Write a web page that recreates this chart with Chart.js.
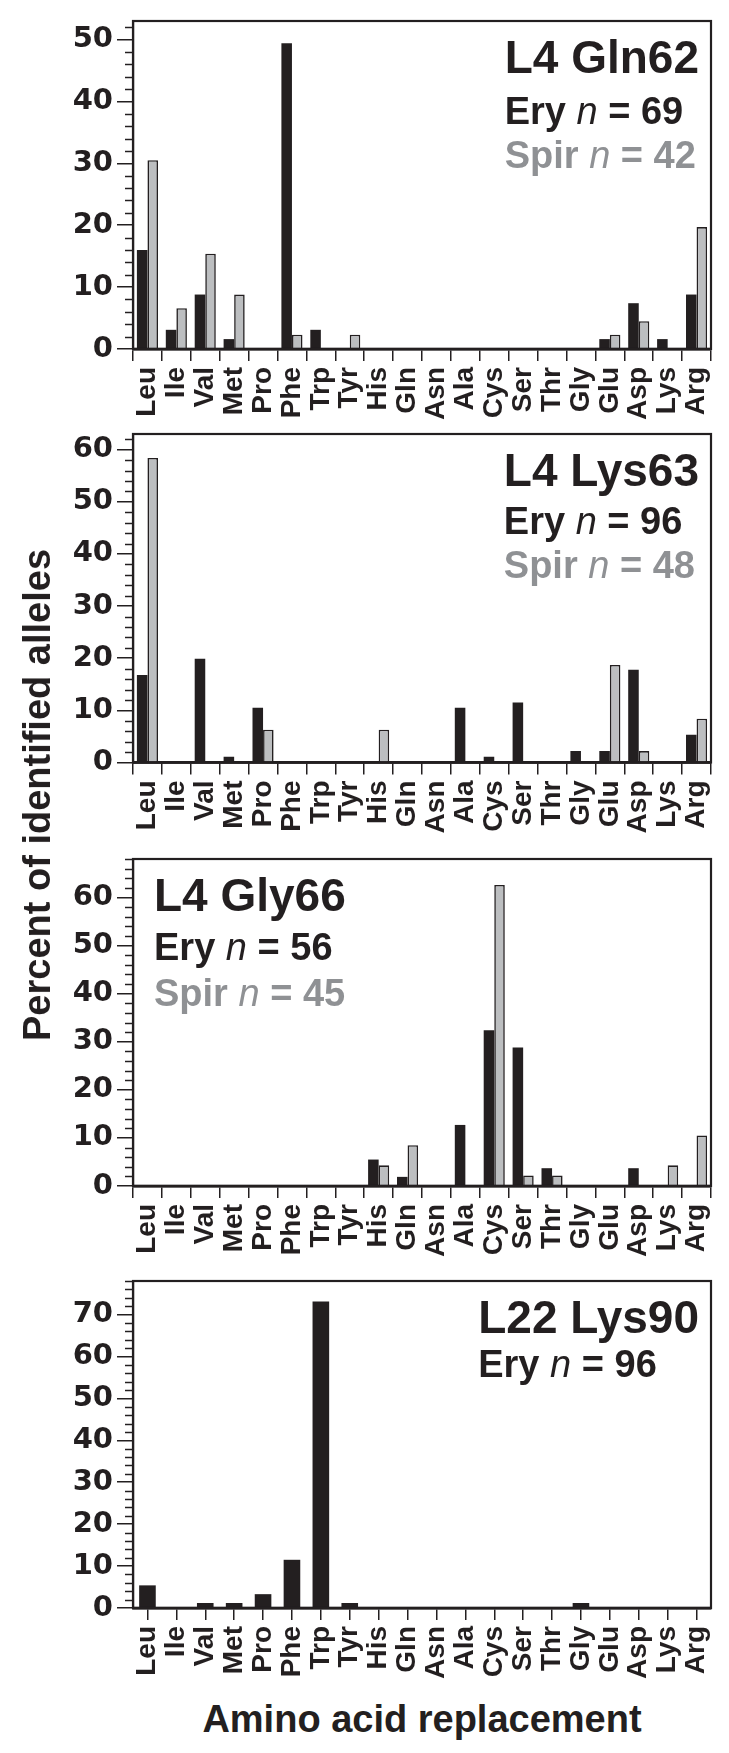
<!DOCTYPE html>
<html>
<head>
<meta charset="utf-8">
<script src="https://cdn.jsdelivr.net/npm/chart.js@4/dist/chart.umd.min.js"></script>
<style>
html,body{margin:0;padding:0;background:#fff;}
#wrap{position:relative;width:729px;height:1753px;overflow:hidden;background:#fff;}
.pc{position:absolute;left:0;width:729px;height:420px;}
#ytitle{position:absolute;left:37px;top:795px;transform:translate(-50%,-50%) rotate(-90deg);font:bold 38px "Liberation Sans",Arial,sans-serif;line-height:38px;color:#231f20;white-space:nowrap;}
#xtitle{position:absolute;left:422px;top:1700px;transform:translateX(-50%);font:bold 38px "Liberation Sans",Arial,sans-serif;line-height:38px;color:#231f20;white-space:nowrap;}
</style>
</head>
<body>
<div id="wrap">
  <div class="pc" style="top:0px"><canvas id="c1"></canvas></div>
  <div class="pc" style="top:420px"><canvas id="c2"></canvas></div>
  <div class="pc" style="top:840px"><canvas id="c3"></canvas></div>
  <div class="pc" style="top:1260px"><canvas id="c4"></canvas></div>
  <div id="ytitle">Percent of identified alleles</div>
  <div id="xtitle">Amino acid replacement</div>
</div>
<script>
// ---- data ----
const aminoAcids = ['Leu','Ile','Val','Met','Pro','Phe','Trp','Tyr','His','Gln','Asn','Ala','Cys','Ser','Thr','Gly','Glu','Asp','Lys','Arg'];

const gln62Ery  = [16.0, 3.1, 8.8, 1.6, 0, 49.4, 3.1, 0, 0, 0, 0, 0, 0, 0, 0, 0, 1.6, 7.4, 1.6, 8.8];
const gln62Spir = [30.5, 6.6, 15.4, 8.8, 0, 2.3, 0, 2.3, 0, 0, 0, 0, 0, 0, 0, 0, 2.3, 4.5, 0, 19.7];

const lys63Ery  = [16.8, 0, 19.9, 1.1, 10.5, 0, 0, 0, 0, 0, 0, 10.5, 1.1, 11.5, 0, 2.2, 2.2, 17.8, 0, 5.3];
const lys63Spir = [58.4, 0, 0, 0, 6.3, 0, 0, 0, 6.3, 0, 0, 0, 0, 0, 0, 0, 18.7, 2.2, 0, 8.4];

const gly66Ery  = [0, 0, 0, 0, 0, 0, 0, 0, 5.5, 1.9, 0, 12.7, 32.4, 28.8, 3.7, 0, 0, 3.7, 0, 0];
const gly66Spir = [0, 0, 0, 0, 0, 0, 0, 0, 4.3, 8.5, 0, 0, 62.6, 2.2, 2.2, 0, 0, 0, 4.3, 10.5];

const lys90Ery  = [5.4, 0, 1.2, 1.2, 3.3, 11.5, 73.1, 1.2, 0, 0, 0, 0, 0, 0, 0, 1.2, 0, 0, 0, 0];

const panelTitles = ['L4 Gln62', 'L4 Lys63', 'L4 Gly66', 'L22 Lys90'];
const eryN  = [69, 96, 56, 96];
const spirN = [42, 48, 45, null];
const yMaxes = [53, 63, 68, 78];
const yMajorStep = 10;
const yMinorStep = 2;

// ---- styles ----
const INK = '#231f20';
const GREY_FILL = '#bcbec0';
const GREY_TEXT = '#8f9194';
const LABEL_FONT = '"Liberation Sans", Arial, sans-serif';
const TICK_FONT = '"DejaVu Sans", "Liberation Sans", sans-serif';

const framePlugin = {
  id: 'frameAndMinor',
  afterDraw(chart) {
    const ctx = chart.ctx, a = chart.chartArea, y = chart.scales.y;
    ctx.save();
    ctx.strokeStyle = INK;
    ctx.lineWidth = 1.5;
    for (let v = 0; v <= y.max + 1e-9; v += yMinorStep) {
      if (v % yMajorStep === 0) continue;
      const py = Math.round(y.getPixelForValue(v)) + 0.5;
      ctx.beginPath(); ctx.moveTo(a.left - 8, py); ctx.lineTo(a.left, py); ctx.stroke();
    }
    ctx.lineWidth = 2.2;
    ctx.strokeRect(a.left, a.top, a.right - a.left, a.bottom - a.top);
    ctx.beginPath(); ctx.lineWidth = 2.6; ctx.moveTo(a.left, a.bottom); ctx.lineTo(a.right, a.bottom); ctx.stroke();
    ctx.restore();
  }
};

const annotPlugin = {
  id: 'annot',
  afterDraw(chart, args, opts) {
    const ctx = chart.ctx, a = chart.chartArea;
    ctx.save();
    ctx.textBaseline = 'alphabetic';
    ctx.font = 'bold 46px ' + LABEL_FONT;
    const tw = ctx.measureText(opts.title).width;
    let x0;
    if (opts.side === 'right') x0 = a.right - 12 - tw; else x0 = a.left + 21;
    ctx.fillStyle = INK;
    ctx.fillText(opts.title, x0, a.top + 52);
    const drawLine = (prefix, n, color, yy, size) => {
      let x = x0;
      ctx.fillStyle = color;
      ctx.font = 'bold ' + size + 'px ' + LABEL_FONT;
      ctx.fillText(prefix + ' ', x, yy); x += ctx.measureText(prefix + ' ').width;
      ctx.font = 'italic ' + size + 'px ' + LABEL_FONT;
      ctx.fillText('n', x, yy); x += ctx.measureText('n').width;
      ctx.font = 'bold ' + size + 'px ' + LABEL_FONT;
      ctx.fillText(' = ' + n, x, yy);
    };
    drawLine('Ery', opts.ery, INK, a.top + opts.eryDy, 38);
    if (opts.spir != null) drawLine('Spir', opts.spir, GREY_TEXT, a.top + opts.spirDy, 38);
    ctx.restore();
  }
};

function makeChart(id, idx, datasets, cfg) {
  const el = document.getElementById(id);
  return new Chart(el, {
    type: 'bar',
    data: { labels: aminoAcids, datasets },
    options: {
      responsive: false,
      animation: false,
      devicePixelRatio: 1,
      layout: { padding: { left: 0, right: 18, top: cfg.top, bottom: 0 } },
      plugins: {
        legend: { display: false },
        tooltip: { enabled: false },
        annot: { title: panelTitles[idx], ery: eryN[idx], spir: spirN[idx], side: cfg.side, eryDy: cfg.eryDy, spirDy: cfg.spirDy }
      },
      datasets: { bar: { categoryPercentage: cfg.catPct, barPercentage: 1.0 } },
      scales: {
        x: {
          type: 'category',
          offset: true,
          grid: { display: true, drawOnChartArea: false, drawTicks: true, tickLength: 12, offset: cfg.gridOffset, color: INK, lineWidth: 1.5 },
          border: { display: true, color: INK, width: 2.5 },
          ticks: {
            minRotation: 90, maxRotation: 90, autoSkip: false, padding: 6,
            color: INK, font: { family: LABEL_FONT, weight: 'bold', size: 28, lineHeight: 1 }
          },
          afterFit(s) { s.height = cfg.xh; s.paddingLeft = 0; s.paddingRight = 0; }
        },
        y: {
          min: 0, max: yMaxes[idx],
          grid: { display: true, drawOnChartArea: false, drawTicks: true, tickLength: 16, color: INK, lineWidth: 1.5 },
          border: { display: true, color: INK, width: 2.2 },
          ticks: {
            stepSize: yMajorStep, includeBounds: false, padding: 4,
            color: INK, font: { family: TICK_FONT, weight: 'bold', size: 29 }
          },
          afterFit(s) { s.width = 133; s.paddingTop = 0; s.paddingBottom = 0; }
        }
      }
    },
    plugins: [framePlugin, annotPlugin]
  });
}

function sizeCanvas(id) {
  const c = document.getElementById(id);
  c.width = 729; c.height = 420;
  c.style.width = '729px'; c.style.height = '420px';
}
['c1','c2','c3','c4'].forEach(sizeCanvas);

const eryStyle = { backgroundColor: INK, borderColor: INK, borderWidth: 0 };
const spirStyle = { backgroundColor: GREY_FILL, borderColor: INK, borderWidth: 1.6 };

makeChart('c1', 0, [
  Object.assign({ label: 'Ery', data: gln62Ery }, eryStyle),
  Object.assign({ label: 'Spir', data: gln62Spir }, spirStyle)
], { top: 21, xh: 71, catPct: 0.73, gridOffset: true, side: 'right', eryDy: 103, spirDy: 147 });

makeChart('c2', 1, [
  Object.assign({ label: 'Ery', data: lys63Ery }, eryStyle),
  Object.assign({ label: 'Spir', data: lys63Spir }, spirStyle)
], { top: 14, xh: 77.5, catPct: 0.73, gridOffset: true, side: 'right', eryDy: 100, spirDy: 144 });

makeChart('c3', 2, [
  Object.assign({ label: 'Ery', data: gly66Ery }, eryStyle),
  Object.assign({ label: 'Spir', data: gly66Spir }, spirStyle)
], { top: 19, xh: 74, catPct: 0.73, gridOffset: true, side: 'left', eryDy: 101, spirDy: 147 });

makeChart('c4', 3, [
  Object.assign({ label: 'Ery', data: lys90Ery }, eryStyle)
], { top: 21, xh: 72, catPct: 0.575, gridOffset: false, side: 'right', eryDy: 96, spirDy: 0 });
</script>
</body>
</html>
